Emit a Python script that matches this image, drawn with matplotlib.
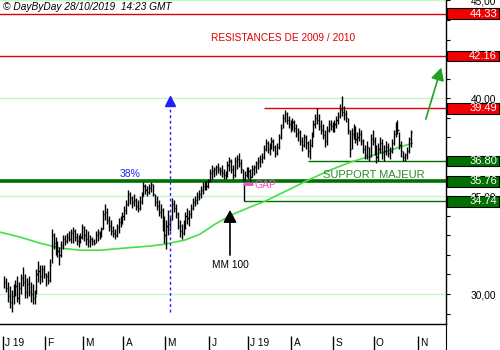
import matplotlib
matplotlib.use("Agg")
import matplotlib.pyplot as plt
from matplotlib.patches import Rectangle
import pandas as pd

plt.rcParams['font.family'] = ['Liberation Sans', 'DejaVu Sans']

# daily bars, Jan 2 -> Oct 28 2019
highs = [
    # jan
    30.9, 30.8, 30.6, 30.4, 30.2, 30.5, 30.7, 30.9, 30.6, 31.0, 31.4, 31.0, 30.8, 30.9, 30.6, 30.5, 30.2, 31.3, 31.7, 31.5, 31.5, 31.5,
    # feb
    31.1, 31.2, 31.8, 33.3, 33.1, 32.9, 32.7, 32.4, 32.7, 33.0, 33.0, 33.1, 33.2, 33.3, 33.4, 33.3, 33.1, 33.0, 33.1, 33.6,
    # mar
    33.5, 33.3, 33.2, 33.0, 32.9, 32.8, 33.2, 33.3, 33.2, 33.4, 34.3, 34.6, 34.4, 34.0, 33.8, 33.5, 33.3, 33.6, 33.9, 34.0, 34.2,
    # apr
    34.5, 34.8, 35.3, 35.2, 35.0, 35.1, 34.9, 34.8, 35.0, 35.2, 35.7, 35.6, 35.5, 35.6, 35.7, 35.6, 35.1, 35.0, 34.8, 34.6, 34.4, 34.0,
    # may
    33.8, 34.3, 34.0, 34.9, 34.8, 34.6, 34.2, 33.8, 33.6, 33.8, 34.2, 34.4, 34.3, 34.6, 34.9, 35.0, 35.2, 35.3, 35.5, 35.7, 35.8, 35.8, 35.9,
    # jun
    36.4, 36.6, 36.5, 36.6, 36.7, 36.5, 36.6, 36.4, 36.3, 36.8, 37.0, 36.9, 36.6, 37.0, 37.1, 37.2, 36.9, 36.4, 36.3, 36.5,
    # jul
    36.5, 36.4, 36.6, 36.6, 36.8, 37.0, 37.1, 37.2, 37.6, 37.9, 37.8, 37.7, 38.0, 37.9, 37.6, 37.7, 38.2, 38.7, 39.2, 39.4, 39.3, 39.1, 38.9,
    # aug
    39.0, 38.9, 38.7, 38.5, 38.4, 38.0, 38.2, 38.1, 37.8, 37.9, 38.3, 38.9, 39.2, 39.5, 39.2, 38.9, 38.7, 38.4, 38.6, 38.9, 38.9, 38.8,
    # sep
    38.9, 39.1, 39.3, 39.7, 40.1, 39.6, 39.4, 39.0, 38.4, 38.5, 38.7, 38.6, 38.3, 38.5, 38.4, 37.9, 37.6, 37.8, 37.5, 38.2, 38.4,
    # oct
    38.0, 37.6, 37.7, 38.0, 37.9, 37.6, 37.8, 37.7, 37.5, 37.9, 38.4, 38.8, 38.9, 38.3, 37.8, 37.3, 37.2, 37.5, 38.0, 38.4,
]
lows = [
    30.3, 30.1, 29.6, 29.3, 29.1, 29.5, 29.9, 29.6, 29.5, 30.0, 30.4, 29.8, 29.8, 29.9, 29.6, 29.5, 29.5, 30.0, 30.6, 30.5, 30.6, 30.8,
    30.4, 30.5, 30.6, 31.6, 32.3, 32.0, 31.9, 31.5, 31.9, 32.3, 32.5, 32.6, 32.7, 32.6, 32.6, 32.7, 32.5, 32.4, 32.6, 32.8,
    32.7, 32.5, 32.4, 32.4, 32.5, 32.5, 32.6, 32.7, 32.8, 32.9, 33.3, 33.8, 33.6, 33.2, 33.0, 32.9, 32.8, 32.9, 33.1, 33.4, 33.6,
    33.8, 34.1, 34.5, 34.6, 34.4, 34.5, 34.3, 34.2, 34.3, 34.6, 35.0, 35.1, 35.0, 35.1, 35.2, 35.0, 34.5, 34.3, 34.0, 33.9, 33.2, 32.6,
    32.3, 33.0, 33.2, 33.8, 34.2, 33.9, 33.3, 32.9, 32.8, 33.0, 33.3, 33.6, 33.5, 33.9, 34.3, 34.5, 34.6, 34.8, 34.9, 35.1, 35.3, 35.3, 35.4,
    35.7, 35.9, 36.0, 36.1, 36.2, 36.1, 36.0, 35.9, 35.9, 36.0, 36.3, 36.2, 35.9, 36.0, 36.4, 36.5, 36.2, 35.8, 35.8, 36.0,
    35.9, 35.8, 36.0, 36.1, 36.2, 36.4, 36.5, 36.7, 36.9, 37.3, 37.2, 37.1, 37.4, 37.3, 37.0, 37.1, 37.4, 37.9, 38.5, 38.8, 38.7, 38.5, 38.3,
    38.4, 38.3, 38.0, 37.8, 37.6, 37.3, 37.5, 37.4, 37.0, 36.9, 37.5, 38.0, 38.5, 38.7, 38.4, 38.2, 37.9, 37.5, 37.6, 38.3, 38.4, 38.3,
    38.3, 38.5, 38.7, 39.0, 39.1, 38.9, 38.8, 38.2, 37.0, 37.4, 37.9, 37.7, 37.6, 37.8, 37.6, 37.2, 36.9, 36.9, 36.8, 37.0, 37.6,
    37.1, 36.7, 36.8, 37.2, 36.9, 36.8, 37.1, 37.0, 36.9, 37.2, 37.6, 38.0, 38.2, 37.4, 37.0, 36.8, 36.8, 36.9, 37.2, 37.5,
]
closes = [
    30.6, 30.3, 29.9, 29.6, 29.9, 30.2, 30.4, 29.8, 30.3, 30.8, 30.6, 30.1, 30.5, 30.1, 30.0, 29.8, 29.9, 31.0, 31.2, 30.9, 31.3, 31.0,
    30.9, 30.7, 31.5, 33.0, 32.6, 32.3, 32.2, 32.0, 32.5, 32.8, 32.7, 32.9, 32.8, 33.1, 33.2, 32.9, 32.7, 32.8, 32.9, 33.4,
    33.0, 32.8, 32.7, 32.8, 32.7, 32.6, 33.0, 33.1, 33.0, 33.3, 34.1, 34.2, 33.8, 33.5, 33.2, 33.1, 33.0, 33.4, 33.7, 33.8, 34.0,
    34.3, 34.6, 35.1, 34.9, 34.7, 34.8, 34.5, 34.4, 34.7, 35.0, 35.5, 35.3, 35.2, 35.4, 35.6, 35.1, 34.7, 34.5, 34.2, 34.3, 33.5, 33.0,
    33.5, 33.6, 33.8, 34.6, 34.4, 34.1, 33.5, 33.2, 33.1, 33.5, 34.0, 33.9, 34.1, 34.4, 34.7, 34.8, 35.0, 35.1, 35.3, 35.5, 35.6, 35.5, 35.8,
    36.2, 36.3, 36.4, 36.5, 36.4, 36.3, 36.2, 36.1, 36.2, 36.6, 36.8, 36.4, 36.1, 36.8, 36.9, 36.7, 36.4, 35.9, 36.1, 36.3,
    36.3, 36.0, 36.4, 36.5, 36.7, 36.8, 36.9, 37.0, 37.4, 37.7, 37.4, 37.5, 37.8, 37.5, 37.2, 37.5, 38.0, 38.5, 39.0, 39.2, 38.9, 38.7, 38.6,
    38.8, 38.5, 38.2, 38.3, 37.8, 37.6, 38.0, 37.7, 37.3, 37.6, 38.1, 38.7, 39.0, 38.9, 38.6, 38.4, 38.1, 37.8, 38.4, 38.7, 38.6, 38.5,
    38.7, 38.9, 39.1, 39.4, 39.3, 39.2, 39.0, 38.4, 37.4, 38.2, 38.4, 37.9, 38.0, 38.2, 37.8, 37.4, 37.1, 37.5, 37.0, 37.9, 37.8,
    37.4, 37.0, 37.4, 37.7, 37.2, 37.3, 37.5, 37.2, 37.3, 37.7, 38.2, 38.6, 38.4, 37.6, 37.3, 37.0, 37.1, 37.3, 37.9, 38.3,
]

# MM 100 (moving average) read at a few points: bar index / value
ma_idx = [-2, 8.4, 18.8, 29.3, 39.8, 50.3, 63.4, 76.4, 84.3, 94.8, 102.6, 110.5, 119.9, 128.8, 136.6, 149.7, 159.2, 170.7, 181.2, 198.4, 213.6]
ma_val = [33.16, 32.91, 32.60, 32.35, 32.24, 32.24, 32.35, 32.45, 32.55, 32.76, 33.06, 33.57, 34.08, 34.44, 34.74, 35.36, 35.82, 36.33, 36.73, 37.24, 37.70]

resistances = [44.33, 42.16, 39.49]
supports = [36.80, 35.76, 34.74]

month_labels = ['J 19', 'F', 'M', 'A', 'M', 'J', 'J 19', 'A', 'S', 'O', 'N']
dates = pd.bdate_range('2019-01-02', '2019-11-01')

red = '#e00000'
dkgreen = '#007000'

fig = plt.figure(figsize=(5, 3.5), dpi=100)
ax = fig.add_axes([0, 26 / 350, 446 / 500, 324 / 350])
ax.set_xlim(-2.1, 231.4)
ax.set_ylim(28.47, 45.02)

x = list(range(len(highs)))

# light green grid
for g in [30, 35, 40, 45]:
    ax.axhline(g, color='#c8f5c8', lw=1, zorder=0)

# resistance lines
ax.axhline(resistances[0], color=red, lw=1)
ax.axhline(resistances[1], color=red, lw=1)
ax.hlines(resistances[2], 136, 231.4, color=red, lw=1)
ax.text(146, 43.06, 'RESISTANCES DE 2009 / 2010', color=red, fontsize=7.3,
        ha='center', va='center')

# supports
ax.axhline(supports[1], color=dkgreen, lw=2.6)
ax.hlines(supports[0], 159, 231.4, color=dkgreen, lw=1)
ax.hlines(supports[2], 125.7, 231.4, color=dkgreen, lw=1)
ax.text(193.5, 36.07, 'SUPPORT MAJEUR', color='#2a8a2a', fontsize=8,
        ha='center', va='center')

# moving average
ax.plot(ma_idx, ma_val, color='#44e044', lw=1.2)

# price bars
ax.vlines(x, lows, highs, color='black', lw=1.0)
ax.hlines(closes, [i for i in x], [i + 0.6 for i in x], color='black', lw=1.0)

# gap marker
ax.vlines(125.7, supports[2], 35.66, color='black', lw=1)
ax.hlines(35.62, 125.2, 130.4, color='#ff44cc', lw=2)
ax.text(131, 35.55, 'GAP', color='#ff44cc', fontsize=7.5, va='center', ha='left')

# 38% retracement and blue marker
ax.text(66, 36.12, '38%', color='#2020ff', fontsize=7.5, ha='center', va='center')
ax.vlines(87, 29.08, 39.7, color='#2020ff', lw=1, linestyles=(0, (2, 2)))
ax.plot([87], [39.85], marker='^', color='#2020ff', markersize=7)

# MM 100 arrow
ax.annotate('', xy=(118.3, 34.44), xytext=(118.3, 31.85),
            arrowprops=dict(arrowstyle='-|>,head_width=0.4,head_length=0.75',
                            color='black', lw=1.2))
ax.text(118.3, 31.75, 'MM 100', fontsize=7.3, ha='center', va='top')

# green target arrow
ax.annotate('', xy=(229.3, 41.7), xytext=(220.4, 38.8),
            arrowprops=dict(arrowstyle='-|>,head_width=0.4,head_length=0.75',
                            color='#22a022', lw=1.2))

# right axis
for s in ['left', 'top']:
    ax.spines[s].set_visible(False)
ax.spines['right'].set_linewidth(1)
ax.spines['bottom'].set_linewidth(1)
ax.set_xticks([])
ax.yaxis.tick_right()
ax.set_yticks([30, 35, 40, 45])
ax.set_yticklabels(['30,00', '35,00', '40,00', '45,00'])
ax.set_yticks([v for v in range(29, 46)], minor=True)
ax.tick_params(axis='y', which='both', direction='out', length=3, width=0.8,
               labelsize=7.3, pad=15)

# level boxes
tr = ax.get_yaxis_transform()
for v in resistances:
    ax.add_patch(Rectangle((447 / 446, v - 0.27), 52 / 446, 0.54, transform=tr,
                           facecolor='#f00000', edgecolor='black', lw=0.8,
                           clip_on=False, zorder=5))
    ax.text(497 / 446, v, '%.2f' % v, transform=tr, color='white', fontsize=8,
            ha='right', va='center', zorder=6, clip_on=False)
for v in supports:
    ax.add_patch(Rectangle((447 / 446, v - 0.27), 52 / 446, 0.54, transform=tr,
                           facecolor=dkgreen, edgecolor='black', lw=0.8,
                           clip_on=False, zorder=5))
    ax.text(497 / 446, v, '%.2f' % v, transform=tr, color='white', fontsize=8,
            ha='right', va='center', zorder=6, clip_on=False)

# month strip at the bottom
sax = fig.add_axes([0, 0, 446 / 500, 26 / 350])
sax.set_xlim(-2.1, 231.4)
sax.set_ylim(0, 26)
for s in ['left', 'top', 'bottom']:
    sax.spines[s].set_visible(False)
sax.set_xticks([])
sax.set_yticks([])
sax.patch.set_alpha(0)
month_starts = [list(dates.month).index(m) for m in range(1, 12)]
for pos, lab in zip(month_starts, month_labels):
    sax.vlines(pos - 0.5, 0, 14, color='black', lw=1)
    sax.text(pos + 0.6, 6.5, lab, fontsize=7.3, va='center', ha='left')

fig.text(3 / 500, 1 - 7 / 350, '\u00a9 DayByDay 28/10/2019  14:23 GMT',
         style='italic', fontsize=7.3, va='center', ha='left')

fig.savefig('out.png', dpi=100)
